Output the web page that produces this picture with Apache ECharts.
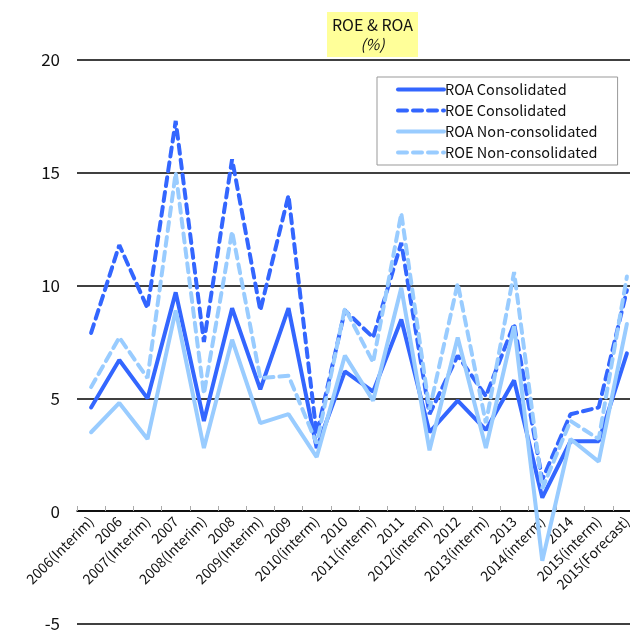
<!DOCTYPE html>
<html>
<head>
<meta charset="utf-8">
<script src="https://cdn.jsdelivr.net/npm/echarts@6/dist/echarts.min.js"></script>
<style>
  html, body { margin: 0; padding: 0; background: #fff; }
  #chart { width: 630px; height: 630px; }
</style>
</head>
<body>
<div id="chart"></div>
<script>
// Fiscal periods shown on the category axis
var periods = [
  '2006(Interim)', '2006', '2007(Interim)', '2007', '2008(Interim)', '2008',
  '2009(Interim)', '2009', '2010(interm)', '2010', '2011(interm)', '2011',
  '2012(interm)', '2012', '2013(interm)', '2013', '2014(interm)', '2014',
  '2015(interm)', '2015(Forecast)'
];

// Ratios in percent
var roaConsolidated = [4.6, 6.7, 5.0, 9.7, 4.0, 9.0, 5.4, 9.0, 2.8, 6.2,
                       5.3, 8.5, 3.5, 4.9, 3.6, 5.8, 0.6, 3.1, 3.1, 7.0];
var roeConsolidated = [7.9, 11.8, 9.0, 17.3, 7.5, 15.6, 8.9, 14.0, 3.4, 8.9,
                       7.7, 11.9, 4.3, 6.9, 5.1, 8.3, 1.4, 4.3, 4.6, 9.8];
var roaNonConsolidated = [3.5, 4.8, 3.2, 8.9, 2.8, 7.6, 3.9, 4.3, 2.4, 6.9,
                          4.9, 9.9, 2.7, 7.7, 2.8, 8.2, -2.2, 3.2, 2.2, 8.3];
var roeNonConsolidated = [5.5, 7.7, 5.9, 15.0, 5.2, 12.4, 5.9, 6.0, 3.0, 9.0,
                          6.6, 13.2, 4.5, 10.1, 3.9, 10.6, 1.0, 4.0, 3.2, 10.4];

var yTicks = [-5, 0, 5, 10, 15, 20];

var DARK = '#3366FF';
var LIGHT = '#99CCFF';
var FONT = '"Noto Sans CJK JP", "DejaVu Sans", sans-serif';

function lineSeries(name, data, color, type) {
  return {
    name: name,
    type: 'line',
    data: data,
    showSymbol: false,
    symbol: 'none',
    lineStyle: { color: color, width: 4, type: type, cap: 'round' },
    itemStyle: { color: color },
    emphasis: { disabled: true },
    animation: false
  };
}

var chart = echarts.init(document.getElementById('chart'), null, { renderer: 'canvas' });

chart.setOption({
  backgroundColor: '#ffffff',
  animation: false,
  grid: { left: 77, right: -11, top: 60, bottom: 6, containLabel: false, outerBoundsMode: 'none' },
  graphic: [
    {
      type: 'rect',
      shape: { x: 327, y: 12, width: 91, height: 45 },
      style: { fill: '#FFFF99' }
    },
    {
      type: 'text',
      x: 372.5, y: 25,
      style: { text: 'ROE & ROA', font: '16px ' + FONT, fill: '#111', align: 'center', verticalAlign: 'middle' }
    },
    {
      type: 'text',
      x: 372.5, y: 44,
      style: { text: '(%)', font: 'italic 15px ' + FONT, fill: '#111', align: 'center', verticalAlign: 'middle' }
    }
  ],
  legend: {
    orient: 'vertical',
    left: 377, top: 77,
    width: 243,
    padding: [4, 20, 4, 19],
    itemGap: 4,
    itemWidth: 46,
    itemHeight: 17,
    backgroundColor: '#fff',
    borderColor: '#999',
    borderWidth: 1,
    itemStyle: { opacity: 0 },
    lineStyle: { width: 4 },
    textStyle: { fontFamily: FONT, fontSize: 14.5, lineHeight: 17, color: '#111', padding: [0, 0, 0, -4] },
    data: ['ROA Consolidated', 'ROE Consolidated', 'ROA Non-consolidated', 'ROE Non-consolidated']
  },
  xAxis: {
    type: 'category',
    data: periods,
    boundaryGap: true,
    position: 'bottom',
    offset: -113,
    axisLine: { onZero: false, lineStyle: { color: '#000', width: 1.5 } },
    axisTick: { show: true, inside: true, length: 5, lineStyle: { color: '#aaa' } },
    axisLabel: {
      interval: 0,
      rotate: 45,
      margin: 8,
      fontFamily: FONT,
      fontSize: 14,
      color: '#111'
    },
    splitLine: { show: false }
  },
  yAxis: {
    type: 'value',
    min: yTicks[0],
    max: yTicks[yTicks.length - 1],
    interval: 5,
    axisLine: { show: false },
    axisTick: { show: false },
    axisLabel: {
      margin: 17,
      fontFamily: FONT,
      fontSize: 17,
      color: '#111'
    },
    splitLine: { show: true, lineStyle: { color: '#000', width: 1.5 } }
  },
  series: [
    lineSeries('ROA Consolidated', roaConsolidated, DARK, 'solid'),
    lineSeries('ROE Consolidated', roeConsolidated, DARK, [9, 6]),
    lineSeries('ROA Non-consolidated', roaNonConsolidated, LIGHT, 'solid'),
    lineSeries('ROE Non-consolidated', roeNonConsolidated, LIGHT, [9, 6])
  ]
});
</script>
</body>
</html>
